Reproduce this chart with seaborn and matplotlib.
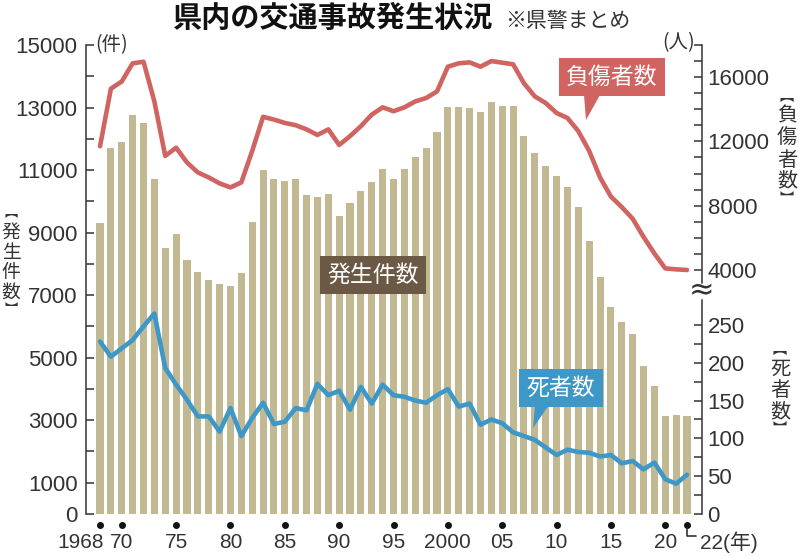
import matplotlib
matplotlib.use("Agg")
import matplotlib.pyplot as plt
from matplotlib.patches import Polygon
import seaborn as sns
import pandas as pd

# data
years = list(range(1968, 2023))
accidents = [
    9300, 11710, 11890, 12760, 12510, 10700, 8500, 8940, 8120, 7730,
    7480, 7360, 7300, 7700, 9350, 11000, 10710, 10650, 10730, 10200,
    10130, 10250, 9540, 9960, 10340, 10610, 11020, 10730, 11020, 11410,
    11710, 12230, 13030, 13010, 12970, 12870, 13170, 13050, 13050, 12090,
    11530, 11140, 10820, 10470, 9810, 8730, 7590, 6630, 6130, 5760,
    4740, 4090, 3130, 3170, 3140,
]
injuries = [
    11700, 15280, 15730, 16860, 16960, 14490, 11100, 11610, 10690, 10070,
    9760, 9390, 9140, 9450, 11410, 13530, 13360, 13150, 13010, 12750,
    12400, 12750, 11780, 12330, 12950, 13670, 14120, 13880, 14120, 14490,
    14700, 15110, 16650, 16860, 16920, 16650, 17000, 16900, 16800, 15620,
    14800, 14390, 13770, 13460, 12640, 11410, 9760, 8570, 7910, 7190,
    6060, 5030, 4100, 4040, 4000,
]
deaths = [
    228, 208, 219, 230, 248, 265, 193, 171, 151, 129,
    129, 109, 140, 103, 127, 147, 119, 122, 140, 137,
    172, 157, 163, 138, 168, 146, 171, 157, 155, 150,
    147, 157, 165, 142, 146, 118, 125, 120, 108, 103,
    98, 88, 78, 85, 82, 81, 76, 78, 67, 70,
    59, 68, 46, 40, 52,
]
tick_years = [1968, 1970, 1975, 1980, 1985, 1990, 1995, 2000, 2005, 2010, 2015, 2020, 2022]
tick_labels = ["1968", "70", "75", "80", "85", "90", "95", "2000", "05", "10", "15", "20", "22(年)"]

df = pd.DataFrame({"year": years, "accidents": accidents,
                   "injuries": injuries, "deaths": deaths})

BAR = "#c2b993"
RED = "#cf6461"
BLUE = "#3d97c7"
BROWN = "#6b5845"
INK = "#333333"
NUM = ["Liberation Sans Narrow", "Liberation Sans", "DejaVu Sans"]
JP = ["Noto Sans CJK JP", "DejaVu Sans"]
NUMJP = ["Liberation Sans Narrow", "Liberation Sans", "Noto Sans CJK JP", "DejaVu Sans"]

sns.set_style("white")
plt.rcParams["font.family"] = NUMJP

W, H = 800, 556
fig = plt.figure(figsize=(W / 100, H / 100), dpi=100)


def fx(px):
    return px / W


def fy(py):
    return 1 - py / H


ax = fig.add_axes([fx(86), fy(514), fx(702 - 86), (514 - 45) / H])
sns.barplot(data=df, x="year", y="accidents", native_scale=True, color=BAR,
            width=0.65, linewidth=0, saturation=1, ax=ax)

ax_inj = ax.twinx()
sns.lineplot(data=df, x="year", y="injuries", color=RED, linewidth=3.3, ax=ax_inj)
ax_dead = ax.twinx()
sns.lineplot(data=df, x="year", y="deaths", color=BLUE, linewidth=3.3, ax=ax_dead)

ax.set_xlim(1966.71, 2023.38)
ax.set_ylim(0, 15000)
ax_inj.set_ylim(-11183, 18000)
ax_dead.set_ylim(0, 620)

for a in (ax, ax_inj, ax_dead):
    a.set_xlabel("")
    a.set_ylabel("")
    a.set_xticks([])
    for s in ("top", "bottom"):
        a.spines[s].set_visible(False)
    a.patch.set_visible(False)

ax.spines["right"].set_visible(False)
ax.spines["left"].set_color(INK)
ax.spines["left"].set_linewidth(1.1)
for a in (ax_inj, ax_dead):
    a.spines["left"].set_visible(False)
    a.spines["right"].set_color(INK)
    a.spines["right"].set_linewidth(1.1)
ax_inj.spines["right"].set_bounds(3200, 18000)
ax_dead.spines["right"].set_bounds(0, 283)

# left axis: accidents
left_ticks = list(range(0, 15001, 1000))
ax.set_yticks(left_ticks)
ax.set_yticklabels([str(v) if (v == 0 or (v // 1000) % 2 == 1) else "" for v in left_ticks])
ax.tick_params(axis="y", direction="in", length=6, width=1.1, color=INK,
               labelsize=16, labelcolor=INK, pad=6)

# right axis: injuries
inj_ticks = list(range(4000, 18001, 1000))
ax_inj.set_yticks(inj_ticks)
ax_inj.set_yticklabels([str(v) if v % 4000 == 0 else "" for v in inj_ticks])
ax_inj.tick_params(axis="y", direction="in", length=6, width=1.1, color=INK,
                   labelsize=16, labelcolor=INK, pad=4)

# right axis: deaths
dead_ticks = list(range(0, 251, 25))
ax_dead.set_yticks(dead_ticks)
ax_dead.set_yticklabels([str(v) if v % 50 == 0 else "" for v in dead_ticks])
ax_dead.tick_params(axis="y", direction="in", length=6, width=1.1, color=INK,
                    labelsize=16, labelcolor=INK, pad=4)

# axis break mark
fig.text(fx(702), fy(291), "≈", ha="center", va="center", fontsize=22,
         color=INK, family=["DejaVu Sans"])

# x axis: dots and labels
xt = ax.get_xaxis_transform()
ax.plot(tick_years, [-(525 - 514) / 469] * len(tick_years), "o", color="#111111",
        markersize=4, transform=xt, clip_on=False)
lab_y = -(542 - 514) / 469
for yr, lab in zip(tick_years, tick_labels):
    if yr == 1968:
        ax.text(yr + 0.4, lab_y, lab, transform=xt, ha="right", va="center",
                fontsize=15, color=INK, family=NUM)
    elif yr == 2022:
        ax.text(yr + 1.2, lab_y, lab, transform=xt, ha="left", va="center",
                fontsize=15, color=INK, family=NUMJP)
    else:
        ax.text(yr, lab_y, lab, transform=xt, ha="center", va="center",
                fontsize=15, color=INK, family=NUM)
ax.plot([2022, 2022, 2022.85],
        [-(528 - 514) / 469, -(536 - 514) / 469, -(536 - 514) / 469],
        color=INK, linewidth=1.2, transform=xt, clip_on=False)

# units
fig.text(fx(112), fy(45), "(件)", ha="center", va="center", fontsize=14,
         color=INK, family=JP)
fig.text(fx(679), fy(43), "(人)", ha="center", va="center", fontsize=14,
         color=INK, family=JP)

# title
fig.text(fx(333), fy(18), "県内の交通事故発生状況", ha="center", va="center",
         fontsize=21, fontweight="bold", color="#111111", family=JP)
fig.text(fx(505), fy(21), "※県警まとめ", ha="left", va="center",
         fontsize=15, color=INK, family=JP)


def vcol(x, ys, chars, size):
    # vertical writing, one glyph per line; brackets drawn smaller
    for y, ch in zip(ys, chars):
        s = size * 0.7 if ch in "︻︼" else size
        fig.text(fx(x), fy(y), ch, ha="center", va="center", fontsize=s,
                 color=INK, family=JP)


vcol(11, [213, 232, 252, 272, 292, 310], "︻発生件数︼", 13.5)
vcol(787, [97, 116, 138, 160, 181, 200], "︻負傷者数︼", 14.5)
vcol(780, [350, 369, 391, 412, 430], "︻死者数︼", 14.5)


def callout(cx, cy, text, color, tail=None):
    fig.text(fx(cx), fy(cy), text, ha="center", va="center", fontsize=16.5,
             color="white", family=JP,
             bbox=dict(boxstyle="square,pad=0.33", facecolor=color, edgecolor="none"))
    if tail is not None:
        pts = [(fx(px), fy(py)) for px, py in tail]
        fig.patches.append(Polygon(pts, closed=True, facecolor=color,
                                   edgecolor="none", transform=fig.transFigure))


callout(612, 77, "負傷者数", RED, [(584, 95), (600, 95), (586, 120)])
callout(561, 388, "死者数", BLUE, [(535, 405), (549, 405), (533, 428)])
callout(373, 275, "発生件数", BROWN)

fig.savefig("out.png", dpi=100)
